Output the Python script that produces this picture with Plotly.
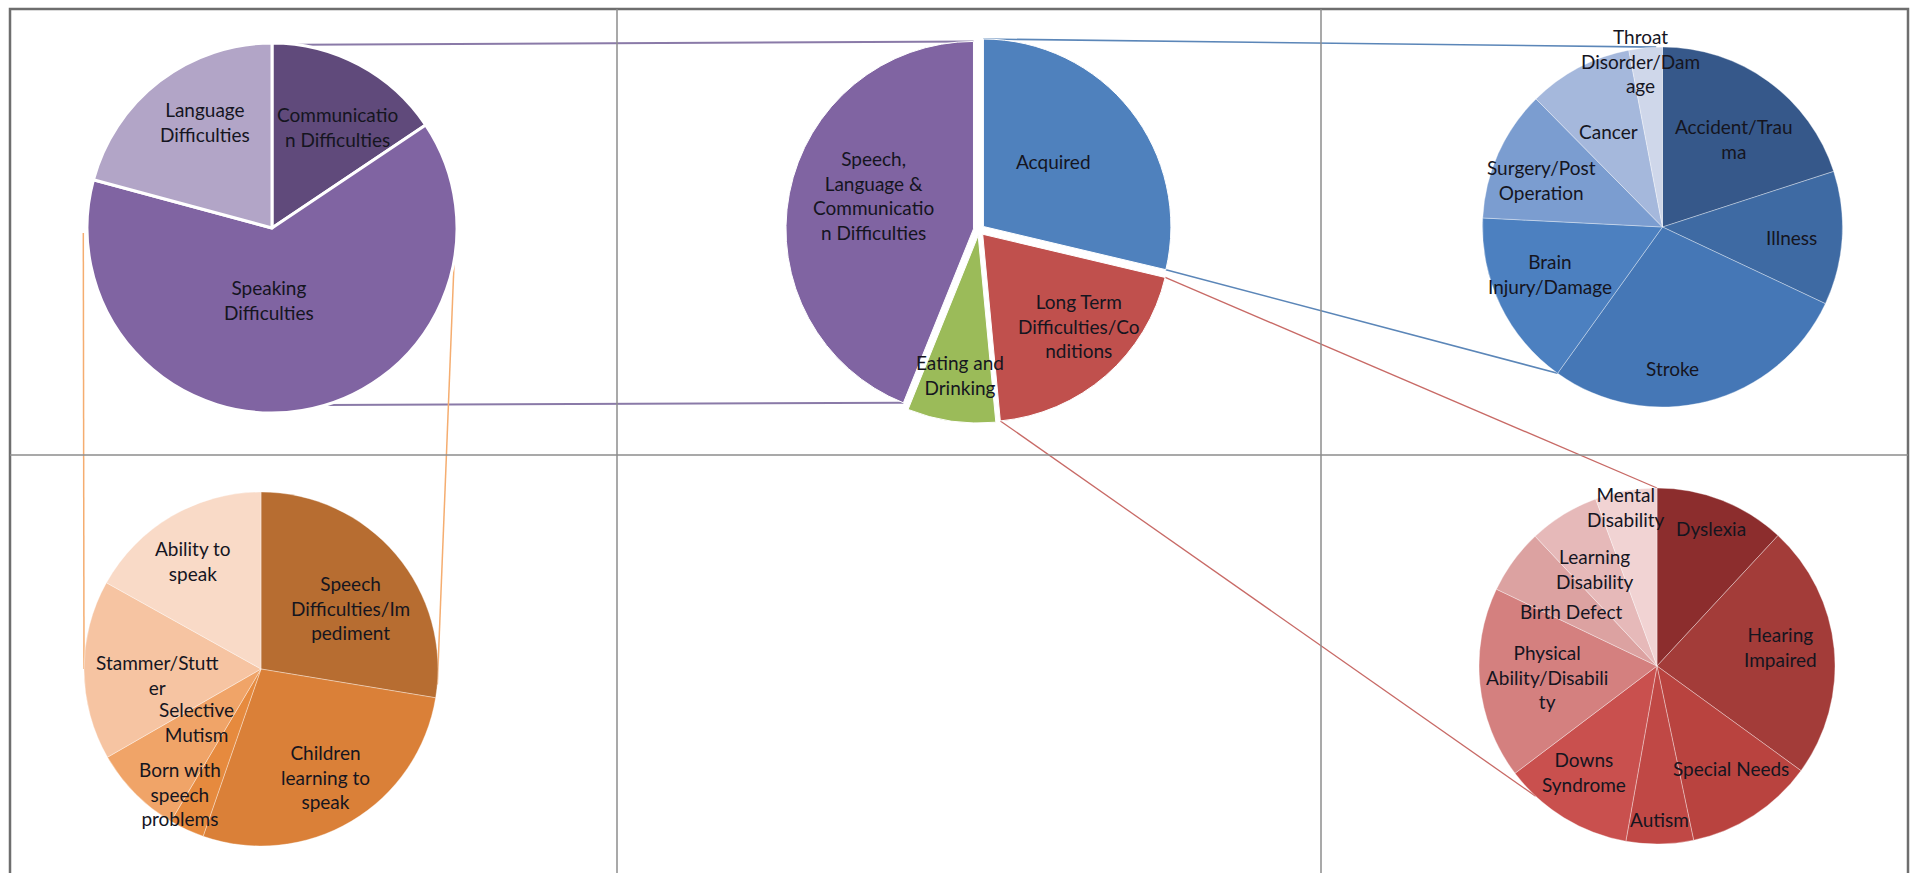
import math
import plotly.graph_objects as go

W, H = 1915, 873

# ---------------- data ----------------
# centre pie
main_cats = ["Acquired", "Long Term Difficulties/Conditions", "Eating and Drinking",
             "Speech, Language & Communication Difficulties"]
main_vals = [28.7, 19.8, 7.6, 43.9]
main_text = ["Acquired", "Long Term<br>Difficulties/Co<br>nditions", "Eating and<br>Drinking",
             "Speech,<br>Language &<br>Communicatio<br>n Difficulties"]

# top-left: breakdown of Speech, Language & Communication Difficulties
slc_cats = ["Communication Difficulties", "Speaking Difficulties", "Language Difficulties"]
slc_vals = [15.6, 63.6, 20.8]
slc_text = ["Communicatio<br>n Difficulties", "Speaking<br>Difficulties", "Language<br>Difficulties"]

# bottom-left: breakdown of Speaking Difficulties
spk_cats = ["Speech Difficulties/Impediment", "Children learning to speak", "Born with speech problems",
            "Selective Mutism", "Stammer/Stutter", "Ability to speak"]
spk_vals = [27.6, 27.7, 3.2, 8.2, 16.4, 16.9]
spk_text = ["Speech<br>Difficulties/Im<br>pediment", "Children<br>learning to<br>speak",
            "Born with<br>speech<br>problems", "Selective<br>Mutism", "Stammer/Stutt<br>er", "Ability to<br>speak"]

# top-right: breakdown of Acquired
acq_cats = ["Accident/Trauma", "Illness", "Stroke", "Brain Injury/Damage", "Surgery/Post Operation",
            "Cancer", "Throat Disorder/Damage"]
acq_vals = [20.0, 12.0, 27.9, 15.9, 11.8, 9.4, 3.0]
acq_text = ["Accident/Trau<br>ma", "Illness", "Stroke", "Brain<br>Injury/Damage", "Surgery/Post<br>Operation",
            "Cancer", "Throat<br>Disorder/Dam<br>age"]

# bottom-right: breakdown of Long Term Difficulties/Conditions
ltd_cats = ["Dyslexia", "Hearing Impaired", "Special Needs", "Autism", "Downs Syndrome",
            "Physical Ability/Disability", "Birth Defect", "Learning Disability", "Mental Disability"]
ltd_vals = [11.9, 23.1, 11.7, 6.1, 11.9, 17.4, 5.9, 6.4, 5.6]
ltd_text = ["Dyslexia", "Hearing<br>Impaired", "Special Needs", "Autism", "Downs<br>Syndrome",
            "Physical<br>Ability/Disabili<br>ty", "Birth Defect", "Learning<br>Disability", "Mental<br>Disability"]

# ---------------- styles ----------------
main_colors = ["#4f81bd", "#c0504d", "#9bbb59", "#8064a2"]
slc_colors = ["#604a7b", "#8064a2", "#b2a5c7"]
spk_colors = ["#b76d31", "#da8038", "#e68a3e", "#f0a468", "#f6c4a2", "#f9dac7"]
acq_colors = ["#36588a", "#3e6aa3", "#4577b6", "#4c80c0", "#7b9dd0", "#a5b8dc", "#cfd7ea"]
ltd_colors = ["#8c2d2d", "#a33c39", "#b9433f", "#c04845", "#c9504e", "#d4807f", "#dca2a1", "#e6b9b9", "#f1d3d3"]

# label placement (radius fraction, angle offset in degrees)
main_lab = [(0.54, -4), (0.74, -5), (0.78, -1), (0.59, 7)]
slc_lab = [(0.65, 5), (0.39, 12), (0.68, 5)]
spk_lab = [(0.61, 6), (0.71, 0), (0.84, 8), (0.47, 5), (0.59, -3), (0.72, -2)]
acq_lab = [(0.63, 3), (0.72, 1), (0.79, 10.6), (0.68, 3), (0.72, -3), (0.61, -2), (0.93, -2)]
ltd_lab = [(0.83, 0), (0.70, -3), (0.71, -3), (0.86, 0), (0.72, 3), (0.62, 0), (0.57, -4), (0.65, -1), (0.91, -1)]

FONT = dict(family="Lato, 'Liberation Sans', Arial, sans-serif", size=19, color="#15151f")

fig = go.Figure()


def cum_angles(vals):
    tot = float(sum(vals))
    out, c = [0.0], 0.0
    for v in vals:
        c += v
        out.append(c / tot * 360.0)
    return out


def pt(cx, cy, r, ang):
    a = math.radians(ang)
    return cx + r * math.sin(a), cy - r * math.cos(a)


def add_pie(cats, vals, colors, cx, cy, r, pull=0.0, lc="white", lw=1.0):
    ext = r * (1 + pull)
    fig.add_trace(go.Pie(
        labels=cats, values=vals, sort=False, direction="clockwise", rotation=0,
        marker=dict(colors=colors, line=dict(color=lc, width=lw)),
        textinfo="none", hoverinfo="label+percent", pull=pull, showlegend=False,
        domain=dict(x=[(cx - ext) / W, (cx + ext) / W], y=[1 - (cy + ext) / H, 1 - (cy - ext) / H]),
    ))


def add_labels(texts, vals, cx, cy, r, lab):
    ang = cum_angles(vals)
    for i, t in enumerate(texts):
        f, d = lab[i]
        mid = (ang[i] + ang[i + 1]) / 2 + d
        x, y = pt(cx, cy, f * r, mid)
        fig.add_annotation(x=x / W, y=1 - y / H, xref="paper", yref="paper", text=t, showarrow=False,
                           font=FONT, xanchor="center", yanchor="middle", align="center")


def line(p0, p1, color, width):
    fig.add_shape(type="line", xref="paper", yref="paper",
                  x0=p0[0] / W, y0=1 - p0[1] / H, x1=p1[0] / W, y1=1 - p1[1] / H,
                  line=dict(color=color, width=width), layer="below")


# geometry of the five pies (pixel centres / radii)
A = (272, 228, 185)      # top-left
B = (979, 230, 187.5)    # centre
C = (1662.5, 227, 180)   # top-right
D = (261, 669, 177)      # bottom-left
E = (1657, 666, 178)     # bottom-right
PULL = 0.03

add_pie(slc_cats, slc_vals, slc_colors, *A, lc="white", lw=3)
add_pie(main_cats, main_vals, main_colors, *B, pull=PULL, lc="white", lw=1)
add_pie(acq_cats, acq_vals, acq_colors, *C, lc="rgba(255,255,255,0.35)", lw=1)
add_pie(spk_cats, spk_vals, spk_colors, *D, lc="rgba(255,255,255,0.35)", lw=1)
add_pie(ltd_cats, ltd_vals, ltd_colors, *E, lc="rgba(255,255,255,0.35)", lw=1)

add_labels(slc_text, slc_vals, *A, slc_lab)
add_labels(main_text, main_vals, *B, main_lab)
add_labels(acq_text, acq_vals, *C, acq_lab)
add_labels(spk_text, spk_vals, *D, spk_lab)
add_labels(ltd_text, ltd_vals, *E, ltd_lab)

# connector lines, anchored on slice edges
mang = cum_angles(main_vals)


def main_corner(i, edge_ang):
    mid = (mang[i] + mang[i + 1]) / 2
    ox, oy = pt(0, 0, PULL * B[2], mid)
    return pt(B[0] + ox, B[1] + oy, B[2], edge_ang)


aang = cum_angles(acq_vals)
# purple (SLC slice -> top-left)
line(pt(*A, 8), main_corner(3, 360), "#8a7aa8", 2)
line(pt(*A, 163), main_corner(3, mang[3]), "#8a7aa8", 2)
# blue (Acquired -> top-right)
line(main_corner(0, 0), pt(*C, 358), "#5b86b8", 1.6)
line(main_corner(0, mang[1]), pt(*C, aang[3]), "#5b86b8", 1.6)
# red (Long term -> bottom-right)
line(main_corner(1, mang[1]), pt(*E, 0), "#c86a66", 1.3)
line(main_corner(1, mang[2]), pt(*E, 223), "#c86a66", 1.3)
# orange (Speaking -> bottom-left)
line(pt(A[0], A[1] + 5, A[2] * 1.02, 270), pt(*D, 270), "#f5ad70", 1.5)
line(pt(A[0], A[1] + 7, A[2] * 0.99, 90), pt(*D, 95), "#f5ad70", 1.5)

# frame / grid
fig.add_shape(type="rect", xref="paper", yref="paper", x0=10 / W, x1=1908 / W, y0=-0.05, y1=1 - 9 / H,
              line=dict(color="#6e6e6e", width=2.5), layer="below")
for xv in (617, 1321):
    fig.add_shape(type="line", xref="paper", yref="paper", x0=xv / W, x1=xv / W, y0=-0.05, y1=1 - 9 / H,
                  line=dict(color="#8c8c8c", width=1.5), layer="below")
fig.add_shape(type="line", xref="paper", yref="paper", x0=10 / W, x1=1908 / W, y0=1 - 455 / H, y1=1 - 455 / H,
              line=dict(color="#8c8c8c", width=1.5), layer="below")

fig.update_layout(width=W, height=H, margin=dict(l=0, r=0, t=0, b=0),
                  paper_bgcolor="white", plot_bgcolor="white", showlegend=False)

fig.write_html("out.html")
